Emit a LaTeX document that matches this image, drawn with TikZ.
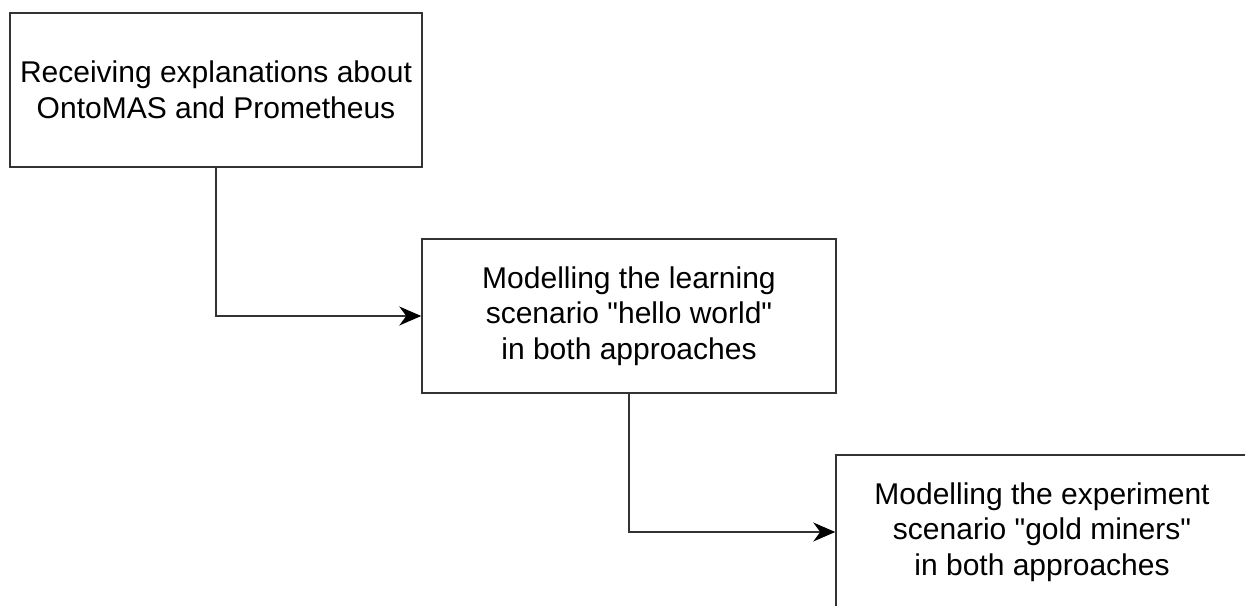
\documentclass[tikz,border=0pt]{standalone}
\usepackage{fontspec}
\setmainfont{Liberation Sans}
\usetikzlibrary{arrows.meta}

\begin{document}
\begin{tikzpicture}[x=0.5pt, y=-0.5pt,
  stage/.style={rectangle, minimum width=206pt, minimum height=77pt, text centered, align=center, draw=black!80, line width=0.75pt, font=\fontsize{15}{17.8}\selectfont},
  flow/.style={-{Stealth[length=11pt, width=9.5pt, inset=3.5pt, black]}, draw=black!80, line width=0.75pt}]
\useasboundingbox (0,0) rectangle (1245,605);

% Stages
\node (explain) [stage] at (216,90) {Receiving explanations about\\OntoMAS and Prometheus};

\node (hello) [stage, minimum width=207pt] at (629,316) {Modelling the learning\\scenario \textquotedbl hello world\textquotedbl\\in both approaches};

\node (miners) [stage] at (1042,532) {Modelling the experiment\\scenario \textquotedbl gold miners\textquotedbl\\in both approaches};

% Transitions
\draw[flow] (explain.south) |- (hello.west);
\draw[flow] (hello.south) |- (miners.west);

\end{tikzpicture}
\end{document}
